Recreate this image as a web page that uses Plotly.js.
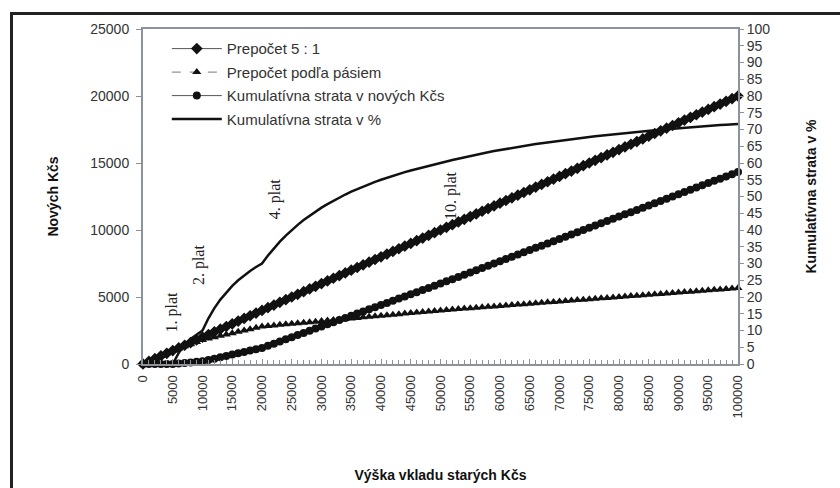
<!DOCTYPE html>
<html>
<head>
<meta charset="utf-8">
<script src="https://cdn.plot.ly/plotly-3.0.1.min.js"></script>
<style>
  html, body { margin: 0; padding: 0; background: #fff; }
  #wrap { position: relative; width: 840px; height: 488px; overflow: hidden; }
  #frame { position: absolute; left: 10px; top: 12px; width: 900px; height: 600px;
           border-left: 3px solid #222; border-top: 3px solid #222; pointer-events: none; }
</style>
</head>
<body>
<div id="wrap">
  <div id="chart" style="width:840px;height:488px;"></div>
  <div id="frame"></div>
</div>
<script>
// vklad v starych Kcs
var vklad = [0,1000,2000,3000,4000,5000,6000,7000,8000,9000,10000,11000,12000,13000,14000,15000,16000,17000,18000,19000,20000,
  21000,22000,23000,24000,25000,26000,27000,28000,29000,30000,31000,32000,33000,34000,35000,36000,37000,38000,39000,40000,
  41000,42000,43000,44000,45000,46000,47000,48000,49000,50000,51000,52000,53000,54000,55000,56000,57000,58000,59000,60000,
  61000,62000,63000,64000,65000,66000,67000,68000,69000,70000,71000,72000,73000,74000,75000,76000,77000,78000,79000,80000,
  81000,82000,83000,84000,85000,86000,87000,88000,89000,90000,91000,92000,93000,94000,95000,96000,97000,98000,99000,100000];

// prepocet 5 : 1
var prepocet51 = [0,200,400,600,800,1000,1200,1400,1600,1800,2000,2200,2400,2600,2800,3000,3200,3400,3600,3800,4000,
  4200,4400,4600,4800,5000,5200,5400,5600,5800,6000,6200,6400,6600,6800,7000,7200,7400,7600,7800,8000,
  8200,8400,8600,8800,9000,9200,9400,9600,9800,10000,10200,10400,10600,10800,11000,11200,11400,11600,11800,12000,
  12200,12400,12600,12800,13000,13200,13400,13600,13800,14000,14200,14400,14600,14800,15000,15200,15400,15600,15800,16000,
  16200,16400,16600,16800,17000,17200,17400,17600,17800,18000,18200,18400,18600,18800,19000,19200,19400,19600,19800,20000];

// prepocet podla pasiem
var pasma = [0,200,400,600,800,1000,1160,1320,1480,1640,1800,1900,2000,2100,2200,2300,2400,2500,2600,2700,2800,
  2840,2880,2920,2960,3000,3040,3080,3120,3160,3200,3240,3280,3320,3360,3400,3440,3480,3520,3560,3600,
  3640,3680,3720,3760,3800,3840,3880,3920,3960,4000,4033,4067,4100,4133,4167,4200,4233,4267,4300,4333,
  4367,4400,4433,4467,4500,4533,4567,4600,4633,4667,4700,4733,4767,4800,4833,4867,4900,4933,4967,5000,
  5033,5067,5100,5133,5167,5200,5233,5267,5300,5333,5367,5400,5433,5467,5500,5533,5567,5600,5633,5667];

// kumulativna strata v novych Kcs
var strataKcs = [0,0,0,0,0,0,40,80,120,160,200,300,400,500,600,700,800,900,1000,1100,1200,
  1360,1520,1680,1840,2000,2160,2320,2480,2640,2800,2960,3120,3280,3440,3600,3760,3920,4080,4240,4400,
  4560,4720,4880,5040,5200,5360,5520,5680,5840,6000,6167,6333,6500,6667,6833,7000,7167,7333,7500,7667,
  7833,8000,8167,8333,8500,8667,8833,9000,9167,9333,9500,9667,9833,10000,10167,10333,10500,10667,10833,11000,
  11167,11333,11500,11667,11833,12000,12167,12333,12500,12667,12833,13000,13167,13333,13500,13667,13833,14000,14167,14333];

// kumulativna strata v %
var strataPct = [0,0,0,0,0,0,3.33,5.71,7.5,8.89,10,13.64,16.67,19.23,21.43,23.33,25,26.47,27.78,28.95,30,
  32.38,34.55,36.52,38.33,40,41.54,42.96,44.29,45.52,46.67,47.74,48.75,49.7,50.59,51.43,52.22,52.97,53.68,54.36,55,
  55.61,56.19,56.74,57.27,57.78,58.26,58.72,59.17,59.59,60,60.46,60.9,61.32,61.73,62.12,62.5,62.87,63.22,63.56,63.89,
  64.21,64.52,64.81,65.1,65.38,65.66,65.92,66.18,66.43,66.67,66.9,67.13,67.35,67.57,67.78,67.98,68.18,68.38,68.56,68.75,
  68.93,69.11,69.28,69.44,69.61,69.77,69.92,70.08,70.22,70.37,70.51,70.65,70.79,70.92,71.05,71.18,71.31,71.43,71.55,71.67];

var nazvy = ["Prepočet 5 : 1", "Prepočet podľa pásiem", "Kumulatívna strata v nových Kčs", "Kumulatívna strata v %"];

// popisky platov: [text, x, y]
var platy = [["1. plat", 4900, 3850], ["2. plat", 9400, 7450], ["4. plat", 22200, 12300], ["10. plat", 51800, 12550]];

var sans = "Liberation Sans, Arial, sans-serif";
var osaFarba = "#8b9299";

var traces = [
  {
    x: vklad, y: prepocet51, name: nazvy[0], type: "scatter", mode: "lines+markers",
    line: { color: "#555", width: 1 },
    marker: { symbol: "diamond", size: 9, color: "#111" },
    cliponaxis: false, legendgroup: "a",
  },
  {
    x: vklad, y: pasma, name: nazvy[1], type: "scatter", mode: "lines+markers",
    line: { color: "#777", width: 1, dash: "dash" },
    marker: { symbol: "triangle-up", size: 8, color: "#111" },
    cliponaxis: false, legendgroup: "b",
  },
  {
    x: vklad, y: strataKcs, name: nazvy[2], type: "scatter", mode: "lines+markers",
    line: { color: "#555", width: 1 },
    marker: { symbol: "circle", size: 8, color: "#111" },
    cliponaxis: false, legendgroup: "c",
  },
  {
    x: vklad, y: strataPct, name: nazvy[3], type: "scatter", mode: "lines",
    yaxis: "y2",
    line: { color: "#111", width: 2.5 },
    legendgroup: "d",
  },
];

var annotations = platy.map(function (p) {
  return {
    text: p[0], x: p[1], y: p[2], xref: "x", yref: "y",
    showarrow: false, textangle: -90,
    font: { family: "Liberation Serif, Times New Roman, serif", size: 16, color: "#222" },
  };
});

var layout = {
  width: 840,
  height: 488,
  margin: { l: 143, r: 102, t: 29, b: 124 },
  paper_bgcolor: "#fff",
  plot_bgcolor: "#fff",
  showlegend: true,
  font: { family: sans, size: 13, color: "#333" },
  legend: {
    x: 0.04, y: 0.99, xanchor: "left", yanchor: "top",
    bgcolor: "rgba(255,255,255,0)",
    font: { family: sans, size: 15, color: "#333" },
    traceorder: "grouped", tracegroupgap: 1, itemwidth: 50,
  },
  xaxis: {
    range: [0, 100000],
    tickmode: "linear", tick0: 0, dtick: 5000, tickformat: "d",
    tickangle: -90, ticklabelstandoff: 4,
    ticks: "inside", ticklen: 5, tickcolor: osaFarba,
    minor: { dtick: 1000, ticks: "inside", ticklen: 4, tickcolor: osaFarba },
    showline: true, linecolor: osaFarba, linewidth: 2, mirror: true,
    showgrid: false, zeroline: false,
    tickfont: { family: sans, size: 13, color: "#333" },
    title: { text: "Výška vkladu starých Kčs", standoff: 53, font: { family: sans, size: 14, color: "#111", weight: "bold" } },
    automargin: false,
  },
  yaxis: {
    range: [0, 25000], tickmode: "linear", tick0: 0, dtick: 5000, tickformat: "d",
    ticks: "outside", ticklen: 5, tickcolor: osaFarba, ticklabelstandoff: 4,
    showline: true, linecolor: osaFarba, linewidth: 2, mirror: true,
    showgrid: false, zeroline: false,
    tickfont: { family: sans, size: 14, color: "#333" },
    title: { text: "Nových Kčs", standoff: 28, font: { family: sans, size: 14, color: "#111", weight: "bold" } },
    automargin: false,
  },
  yaxis2: {
    range: [0, 100], tickmode: "linear", tick0: 0, dtick: 5,
    overlaying: "y", side: "right",
    ticks: "outside", ticklen: 5, tickcolor: osaFarba,
    showline: false, showgrid: false, zeroline: false,
    tickfont: { family: sans, size: 14, color: "#333" },
    title: { text: "Kumulatívna strata v %", standoff: 36, font: { family: sans, size: 14, color: "#111", weight: "bold" } },
    automargin: false,
  },
  annotations: annotations,
};

Plotly.newPlot("chart", traces, layout, { displayModeBar: false, staticPlot: true });
</script>
</body>
</html>
